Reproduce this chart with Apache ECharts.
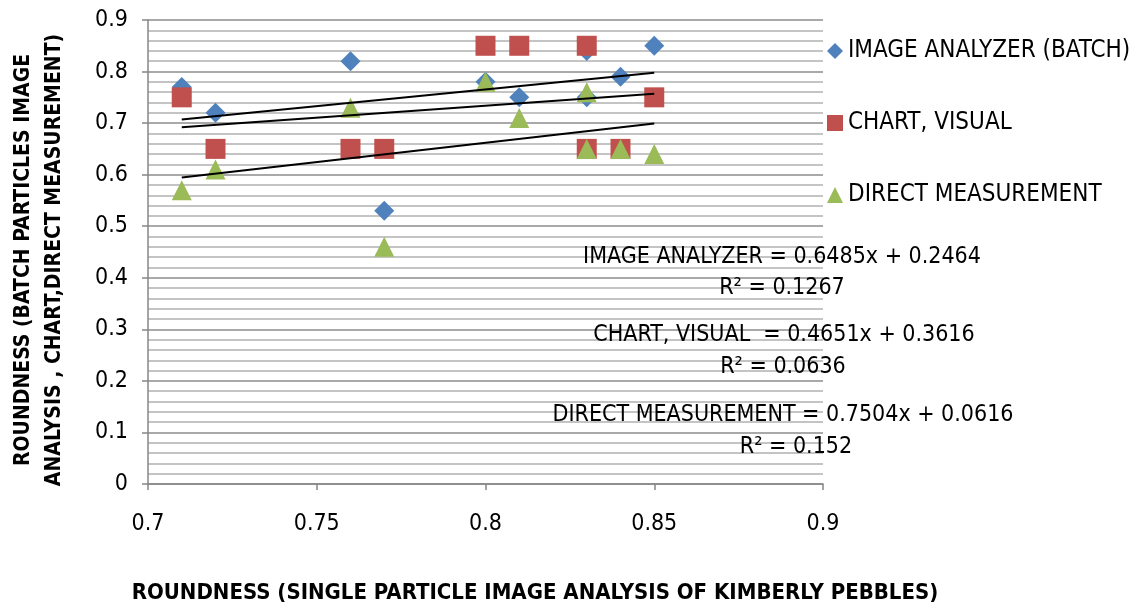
<!DOCTYPE html>
<html><head><meta charset="utf-8">
<script src="https://cdn.jsdelivr.net/npm/echarts@6/dist/echarts.min.js"></script>
<style>html,body{margin:0;padding:0;background:#fff}#c{width:1142px;height:608px}</style>
</head><body><div id="c"></div>
<script>
const seriesNames = ['IMAGE ANALYZER (BATCH)', 'CHART, VISUAL', 'DIRECT MEASUREMENT'];
const xValues = [0.71, 0.72, 0.76, 0.77, 0.80, 0.81, 0.83, 0.83, 0.84, 0.85];
const imageAnalyzer = [0.77, 0.72, 0.82, 0.53, 0.78, 0.75, 0.84, 0.75, 0.79, 0.85];
const chartVisual = [0.75, 0.65, 0.65, 0.65, 0.85, 0.85, 0.85, 0.65, 0.65, 0.75];
const directMeasurement = [0.57, 0.61, 0.73, 0.46, 0.78, 0.71, 0.76, 0.65, 0.65, 0.64];
const slopes = [0.6485, 0.4651, 0.7504];
const intercepts = [0.2464, 0.3616, 0.0616];
const eqLabels = ['IMAGE ANALYZER = 0.6485x + 0.2464', 'CHART, VISUAL  = 0.4651x + 0.3616', 'DIRECT MEASUREMENT = 0.7504x + 0.0616'];
const r2Labels = ['R² = 0.1267', 'R² = 0.0636', 'R² = 0.152'];
const xTicks = [0.7, 0.75, 0.8, 0.85, 0.9];
const xTitle = 'ROUNDNESS (SINGLE PARTICLE IMAGE ANALYSIS OF KIMBERLY PEBBLES)';
const yTitle = ['ROUNDNESS (BATCH PARTICLES IMAGE', 'ANALYSIS , CHART,DIRECT MEASUREMENT)'];

const FONT = '"Liberation Sans Narrow", "DejaVu Sans Condensed", "Liberation Sans", sans-serif';
const colors = ['#4F81BD', '#C0504D', '#9BBB59'];
const symbols = ['diamond', 'rect', 'triangle'];
const ys = [imageAnalyzer, chartVisual, directMeasurement];

const chart = echarts.init(document.getElementById('c'), null, {renderer: 'canvas'});
const xMin = Math.min(...xValues), xMax = Math.max(...xValues);

const series = [];
ys.forEach((arr, i) => {
  series.push({
    name: seriesNames[i], type: 'scatter', symbol: symbols[i], symbolSize: 20,
    itemStyle: {color: colors[i], opacity: 1},
    data: xValues.map((x, k) => [x, arr[k]]), z: 2 + i
  });
});
ys.forEach((arr, i) => {
  series.push({
    name: 'trend' + i, type: 'line', symbol: 'none', silent: true,
    lineStyle: {color: '#000', width: 2},
    data: [[xMin, slopes[i] * xMin + intercepts[i]], [xMax, slopes[i] * xMax + intercepts[i]]], z: 10
  });
});

const eqPos = [[782, 257, 782, 288], [784, 335, 783, 367], [783, 415, 796, 447]];
const graphics = [];
eqLabels.forEach((t, i) => {
  graphics.push({type: 'text', x: eqPos[i][0], y: eqPos[i][1], z: 20,
    style: {text: t, font: '23px ' + FONT, fill: '#000', textAlign: 'center', textVerticalAlign: 'middle'}});
  graphics.push({type: 'text', x: eqPos[i][2], y: eqPos[i][3], z: 20,
    style: {text: r2Labels[i], font: '23px ' + FONT, fill: '#000', textAlign: 'center', textVerticalAlign: 'middle'}});
});
graphics.push({type: 'text', x: 535, y: 593, style: {text: xTitle, font: 'bold 22px ' + FONT, fill: '#000', textAlign: 'center', textVerticalAlign: 'middle'}});
graphics.push({type: 'text', x: 24, y: 260, rotation: Math.PI / 2, style: {text: yTitle[0], font: 'bold 21px ' + FONT, fill: '#000', textAlign: 'center', textVerticalAlign: 'middle'}});
graphics.push({type: 'text', x: 55, y: 260, rotation: Math.PI / 2, style: {text: yTitle[1], font: 'bold 21px ' + FONT, fill: '#000', textAlign: 'center', textVerticalAlign: 'middle'}});

chart.setOption({
  animation: false,
  backgroundColor: '#fff',
  textStyle: {fontFamily: FONT},
  grid: {left: 148, right: 319, top: 20, bottom: 124, containLabel: false},
  legend: {
    data: seriesNames.map((n, i) => ({name: n, icon: symbols[i]})),
    orient: 'vertical', left: 822, top: 34, itemWidth: 16, itemHeight: 16, itemGap: 48,
    textStyle: {fontSize: 24, fontFamily: FONT, color: '#000', padding: [0, 0, 0, 0]},
    selectedMode: false
  },
  xAxis: {
    type: 'value', min: 0.7, max: 0.9, interval: 0.05,
    axisLine: {show: true, onZero: false, lineStyle: {color: '#868686', width: 1.5}},
    axisTick: {show: true, length: 6, lineStyle: {color: '#868686', width: 1.5}},
    axisLabel: {fontSize: 23, color: '#000', margin: 29, fontFamily: FONT,
      formatter: v => String(+v.toFixed(2))},
    splitLine: {show: false}
  },
  yAxis: {
    type: 'value', min: 0, max: 0.9, interval: 0.1,
    axisLine: {show: true, lineStyle: {color: '#868686', width: 1.5}},
    axisTick: {show: true, length: 6, lineStyle: {color: '#868686', width: 1.5}},
    axisLabel: {fontSize: 23, color: '#000', margin: 20, fontFamily: FONT,
      formatter: v => String(+v.toFixed(1))},
    splitLine: {show: true, lineStyle: {color: '#8c8c8c', width: 1.5}},
    minorTick: {show: false, splitNumber: 5},
    minorSplitLine: {show: true, lineStyle: {color: '#c4c4c4', width: 2}}
  },
  series: series,
  graphic: graphics
});
</script></body></html>
